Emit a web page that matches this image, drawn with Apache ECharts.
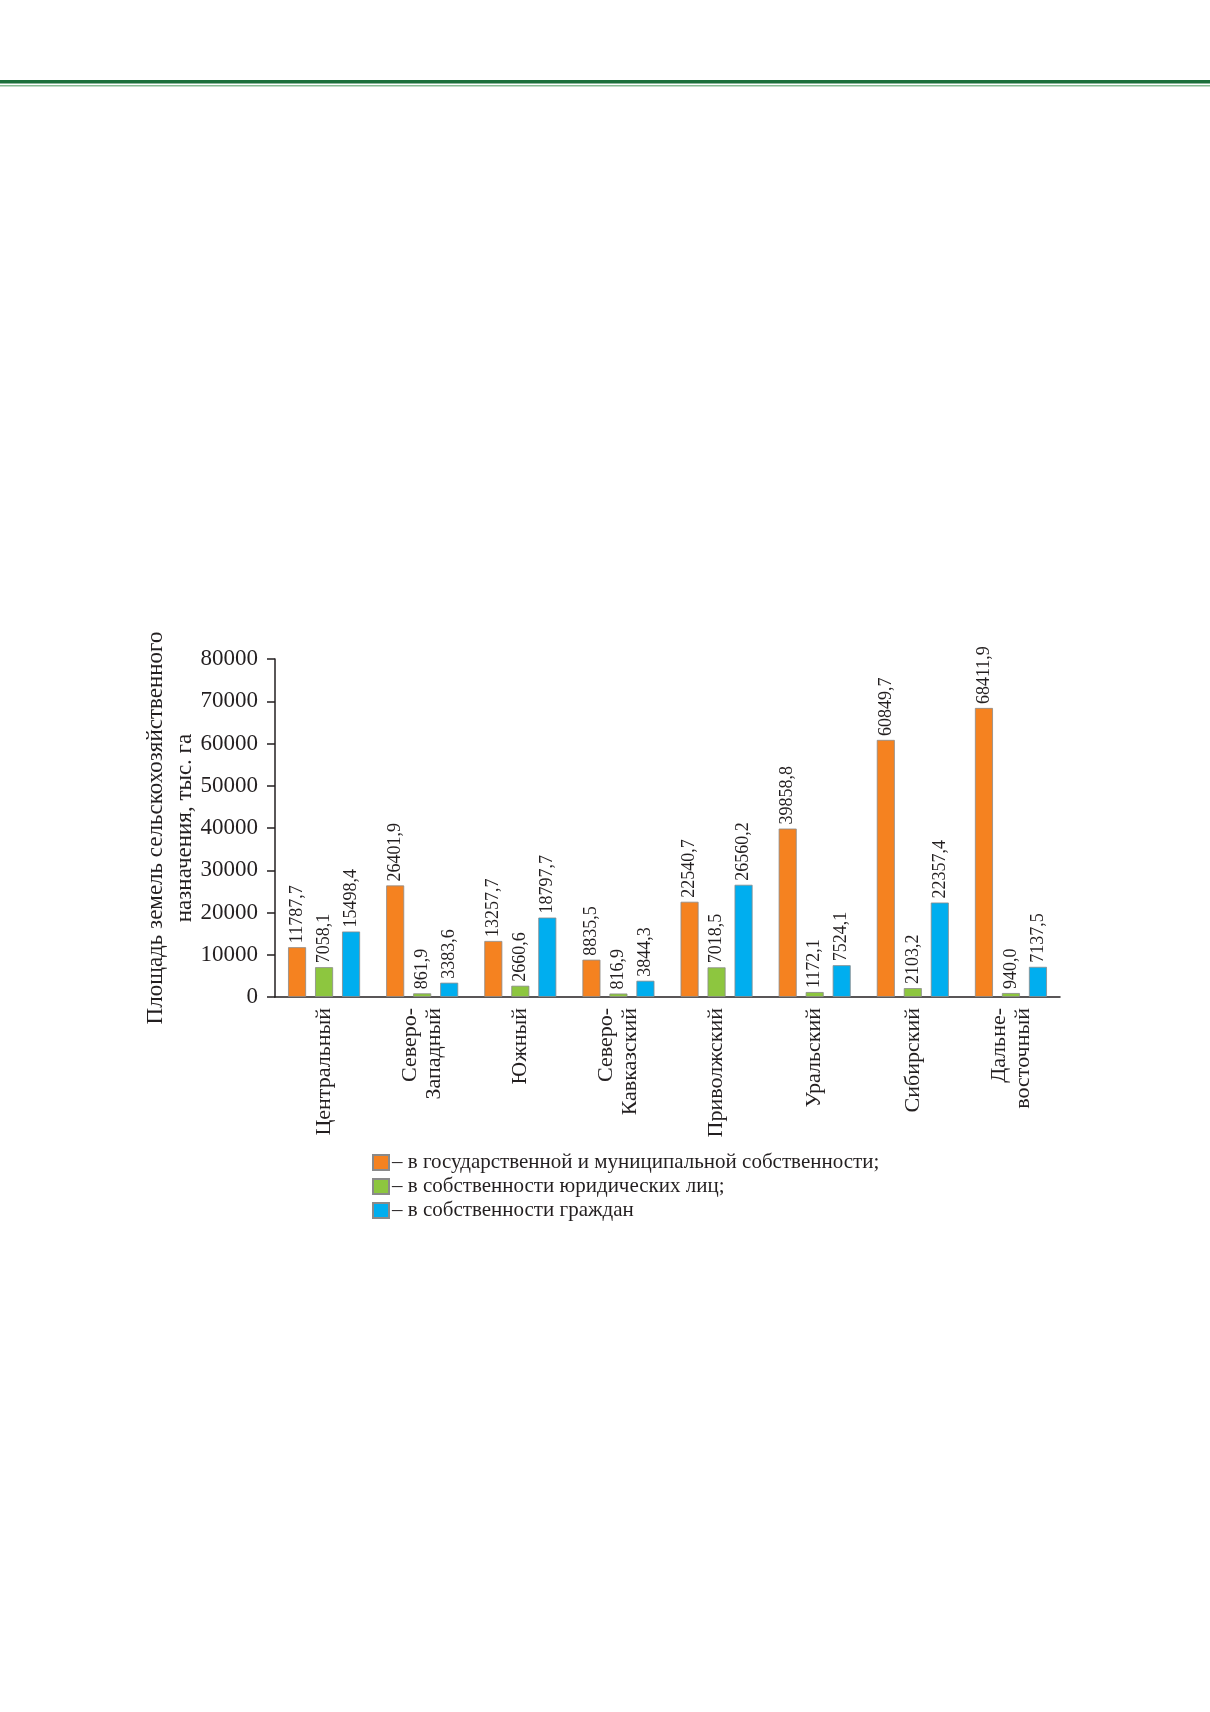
<!DOCTYPE html>
<html>
<head>
<meta charset="utf-8">
<script src="https://cdn.jsdelivr.net/npm/echarts@6/dist/echarts.min.js"></script>
<style>
  html, body { margin: 0; padding: 0; background: #fff; }
  #chart { width: 1210px; height: 1712px; }
</style>
</head>
<body>
<div id="chart"></div>
<script>
// федеральные округа
var categories = ['Центральный', 'Северо-\nЗападный', 'Южный', 'Северо-\nКавказский',
                  'Приволжский', 'Уральский', 'Сибирский', 'Дальне-\nвосточный'];

var seriesNames = ['в государственной и муниципальной собственности;',
                   'в собственности юридических лиц;',
                   'в собственности граждан'];

var stateMunicipal = [11787.7, 26401.9, 13257.7, 8835.5, 22540.7, 39858.8, 60849.7, 68411.9];
var legalEntities  = [7058.1, 861.9, 2660.6, 816.9, 7018.5, 1172.1, 2103.2, 940.0];
var citizens       = [15498.4, 3383.6, 18797.7, 3844.3, 26560.2, 7524.1, 22357.4, 7137.5];

var colors = ['#f58220', '#8dc63f', '#00aeef'];
var font = 'Liberation Serif';

var chart = echarts.init(document.getElementById('chart'));

function makeSeries(name, data, color) {
    return {
        name: name,
        type: 'bar',
        data: data,
        barWidth: 18,
        barGap: '50%',
        itemStyle: {
            color: color,
            borderColor: '#8a8a8a',
            borderWidth: 0.8
        },
        label: {
            show: true,
            position: 'top',
            rotate: 90,
            align: 'left',
            verticalAlign: 'middle',
            distance: 4,
            fontFamily: font,
            fontSize: 18,
            color: '#231f20',
            formatter: function (p) {
                return p.value.toFixed(1).replace('.', ',');
            }
        }
    };
}

option = {
    backgroundColor: '#ffffff',
    animation: false,
    textStyle: { fontFamily: font, color: '#231f20' },
    // зелёная полоса сверху страницы
    graphic: [
        { type: 'rect', shape: { x: 0, y: 80, width: 1210, height: 3.5 }, style: { fill: '#1b6f3b' } },
        { type: 'rect', shape: { x: 0, y: 85, width: 1210, height: 1.5 }, style: { fill: '#86b992' } }
    ],
    legend: {
        orient: 'vertical',
        left: 367,
        top: 1147,
        itemWidth: 16,
        itemHeight: 15,
        itemGap: 3,
        icon: 'rect',
        data: seriesNames,
        formatter: function (name) { return '– ' + name; },
        textStyle: {
            fontFamily: font,
            fontSize: 21,
            color: '#231f20',
            padding: [0, 0, 0, -2]
        }
    },
    grid: {
        left: 275,
        right: 150,
        top: 659,
        bottom: 715
    },
    xAxis: {
        type: 'category',
        data: categories,
        axisLine: { lineStyle: { color: '#231f20', width: 1.5 } },
        axisTick: { length: 8, lineStyle: { color: '#231f20', width: 1.5 } },
        axisLabel: {
            rotate: 90,
            margin: 11,
            fontFamily: font,
            fontSize: 22,
            lineHeight: 24,
            color: '#231f20',
            interval: 0
        }
    },
    yAxis: {
        type: 'value',
        min: 0,
        max: 80000,
        interval: 10000,
        name: 'Площадь земель сельскохозяйственного\nназначения, тыс. га',
        nameLocation: 'middle',
        nameRotate: 90,
        nameGap: 76,
        nameMoveOverlap: false,
        nameTextStyle: {
            fontFamily: font,
            fontSize: 23,
            lineHeight: 29,
            color: '#231f20'
        },
        splitLine: { show: false },
        axisLine: { show: true, lineStyle: { color: '#231f20', width: 1.5 } },
        axisTick: { show: true, length: 8, lineStyle: { color: '#231f20', width: 1.5 } },
        axisLabel: {
            margin: 17,
            fontFamily: font,
            fontSize: 23,
            color: '#231f20',
            formatter: function (v) { return String(v); }
        }
    },
    series: [
        makeSeries(seriesNames[0], stateMunicipal, colors[0]),
        makeSeries(seriesNames[1], legalEntities, colors[1]),
        makeSeries(seriesNames[2], citizens, colors[2])
    ]
};

chart.setOption(option);
</script>
</body>
</html>
